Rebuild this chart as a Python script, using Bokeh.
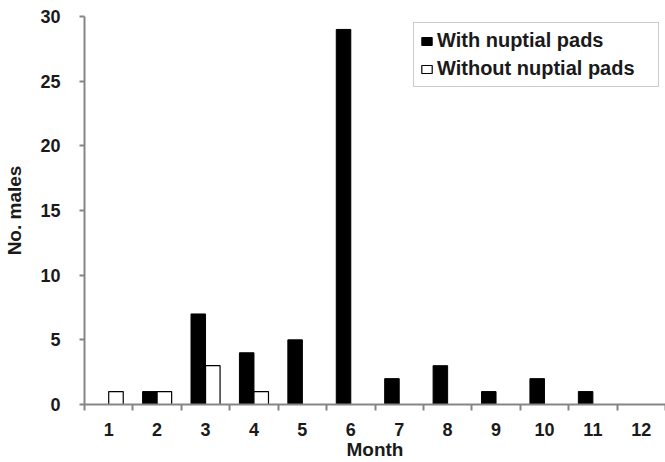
from bokeh.plotting import figure
from bokeh.models import ColumnDataSource, Range1d, FixedTicker, Legend, LegendItem
from bokeh.transform import dodge
from bokeh.embed import file_html
from bokeh.resources import INLINE

months = list(range(1, 13))
month_labels = [str(m) for m in months]
with_pads = [0, 1, 7, 4, 5, 29, 2, 3, 1, 2, 1, 0]
without_pads = [1, 1, 3, 1, 0, 0, 0, 0, 0, 0, 0, 0]
y_ticks = [0, 5, 10, 15, 20, 25, 30]

FONT = "Liberation Sans"
AXIS_COLOR = "#858585"
TEXT_COLOR = "#1a1a1a"

src_with = ColumnDataSource(dict(
    x=[m for m, v in zip(months, with_pads) if v > 0],
    top=[v for v in with_pads if v > 0]))
src_without = ColumnDataSource(dict(
    x=[m for m, v in zip(months, without_pads) if v > 0],
    top=[v for v in without_pads if v > 0]))

p = figure(width=665, height=462,
           x_range=Range1d(0.5, 12.5), y_range=Range1d(0, 30),
           output_backend="svg", toolbar_location=None,
           min_border_left=84, min_border_right=0,
           min_border_top=16, min_border_bottom=58)

bar_w = 0.3
r_with = p.vbar(x=dodge("x", -bar_w / 2), top="top", bottom=0, width=bar_w,
                source=src_with, fill_color="black", line_color="black",
                line_width=1)
r_without = p.vbar(x=dodge("x", bar_w / 2), top="top", bottom=0, width=bar_w,
                   source=src_without, fill_color="white", line_color="black",
                   line_width=1.2)

p.xgrid.visible = False
p.ygrid.visible = False
p.outline_line_color = None
p.background_fill_color = "white"
p.border_fill_color = "white"

# x axis
xa = p.xaxis[0]
xa.ticker = FixedTicker(ticks=months, minor_ticks=[m + 0.5 for m in range(0, 13)])
xa.major_label_overrides = {m: lab for m, lab in zip(months, month_labels)}
xa.major_tick_out = 0
xa.major_tick_in = 0
xa.minor_tick_out = 6
xa.minor_tick_in = 0
xa.minor_tick_line_color = AXIS_COLOR
xa.minor_tick_line_width = 2
xa.axis_line_color = AXIS_COLOR
xa.axis_line_width = 2
xa.major_label_standoff = 12
xa.axis_label = "Month"
xa.axis_label_standoff = 0

# y axis
ya = p.yaxis[0]
ya.ticker = FixedTicker(ticks=y_ticks, minor_ticks=[])
ya.major_tick_out = 5
ya.major_tick_in = 0
ya.major_tick_line_color = AXIS_COLOR
ya.major_tick_line_width = 2
ya.axis_line_color = AXIS_COLOR
ya.axis_line_width = 2
ya.major_label_standoff = 19
ya.axis_label = "No. males"
ya.axis_label_standoff = 12

for ax in (xa, ya):
    ax.major_label_text_font = FONT
    ax.major_label_text_font_size = "18px"
    ax.major_label_text_font_style = "bold"
    ax.major_label_text_color = TEXT_COLOR
    ax.axis_label_text_font = FONT
    ax.axis_label_text_font_size = "19px"
    ax.axis_label_text_font_style = "bold"
    ax.axis_label_text_color = TEXT_COLOR

legend = Legend(items=[LegendItem(label="With nuptial pads", renderers=[r_with]),
                       LegendItem(label="Without nuptial pads", renderers=[r_without])],
                location="top_right", margin=6, padding=6,
                glyph_width=13, glyph_height=10, label_standoff=4,
                spacing=5, label_height=22, label_width=215,
                border_line_color="#999999", border_line_width=1.5,
                background_fill_color="white", background_fill_alpha=1,
                label_text_font=FONT, label_text_font_size="20px",
                label_text_font_style="bold", label_text_color=TEXT_COLOR)
p.add_layout(legend, "center")

open("out.html", "w").write(file_html(p, INLINE))
